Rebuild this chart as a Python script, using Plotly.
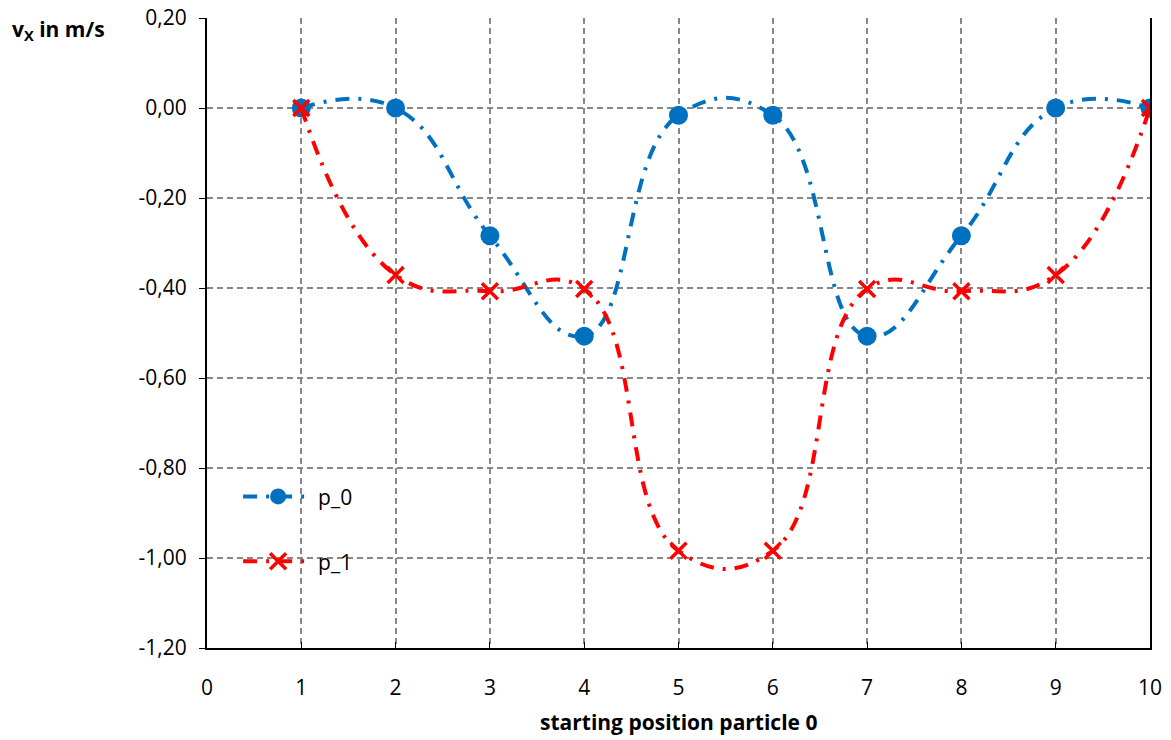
import plotly.graph_objects as go

positions = [1, 2, 3, 4, 5, 6, 7, 8, 9, 10]
p0_values = [0.0, 0.0, -0.284, -0.507, -0.016, -0.016, -0.507, -0.284, 0.0, 0.0]
p1_values = [0.0, -0.371, -0.407, -0.402, -0.984, -0.984, -0.402, -0.407, -0.371, 0.0]

y_tickvals = [0.2, 0.0, -0.2, -0.4, -0.6, -0.8, -1.0, -1.2]
y_ticktext = ["0,20", "0,00", "-0,20", "-0,40", "-0,60", "-0,80", "-1,00", "-1,20"]
x_tickvals = [0, 1, 2, 3, 4, 5, 6, 7, 8, 9, 10]

BLUE = "#0070C0"
RED = "#FF0000"
FONT = "Open Sans"
FS = 21

fig = go.Figure()
fig.add_trace(go.Scatter(
    x=positions, y=p0_values, name="p_0", mode="lines+markers",
    line=dict(color=BLUE, width=4, dash="14px,9px,3px,9px", shape="spline", smoothing=1.3),
    marker=dict(symbol="circle", size=19, color=BLUE),
    legend="legend", showlegend=True,
))
fig.add_trace(go.Scatter(
    x=positions, y=p1_values, name="p_1", mode="lines+markers",
    line=dict(color=RED, width=4, dash="14px,9px,3px,9px", shape="spline", smoothing=1.3),
    marker=dict(symbol="x-thin", size=16, color=RED, line=dict(color=RED, width=3.5)),
    legend="legend2", showlegend=True,
))

grid = dict(showgrid=True, gridcolor="#888888", gridwidth=1.5, griddash="6px,4px")

fig.update_layout(
    width=1171, height=740,
    margin=dict(l=207, r=21, t=18, b=92, autoexpand=False),
    plot_bgcolor="white", paper_bgcolor="white",
    showlegend=True,
    font=dict(family=FONT, size=FS, color="black"),
    xaxis=dict(
        range=[0, 10], tickvals=x_tickvals, ticks="inside", ticklen=6, tickcolor="black",
        showline=True, linecolor="black", linewidth=2, zeroline=False, automargin=False,
        tickfont=dict(size=FS), ticklabelstandoff=20, ticklabeloverflow="allow",
        **grid,
    ),
    yaxis=dict(
        range=[-1.2, 0.2], tickvals=y_tickvals, ticktext=y_ticktext, ticks="outside",
        ticklen=6, tickcolor="black", showline=True, linecolor="black", linewidth=2,
        mirror=True, zeroline=False, automargin=False, tickfont=dict(size=FS),
        ticklabelstandoff=8, ticklabeloverflow="allow",
        **grid,
    ),
    legend=dict(x=0.033, y=0.24, xanchor="left", yanchor="middle", bgcolor="rgba(0,0,0,0)",
                font=dict(size=FS), itemwidth=70),
    legend2=dict(x=0.033, y=0.137, xanchor="left", yanchor="middle", bgcolor="rgba(0,0,0,0)",
                 font=dict(size=FS), itemwidth=70),
    annotations=[
        dict(text="<b>v<sub>X</sub> in m/s</b>", xref="paper", yref="paper",
             x=-0.209, y=0.981, xanchor="left", yanchor="middle", showarrow=False,
             font=dict(size=FS)),
        dict(text="<b>starting position particle 0</b>", xref="paper", yref="paper",
             x=0.5, y=-0.117, xanchor="center", yanchor="middle", showarrow=False,
             font=dict(size=FS)),
    ],
)

fig.write_html("out.html", config={"displayModeBar": False},
               post_script="document.body.style.margin='0';")
